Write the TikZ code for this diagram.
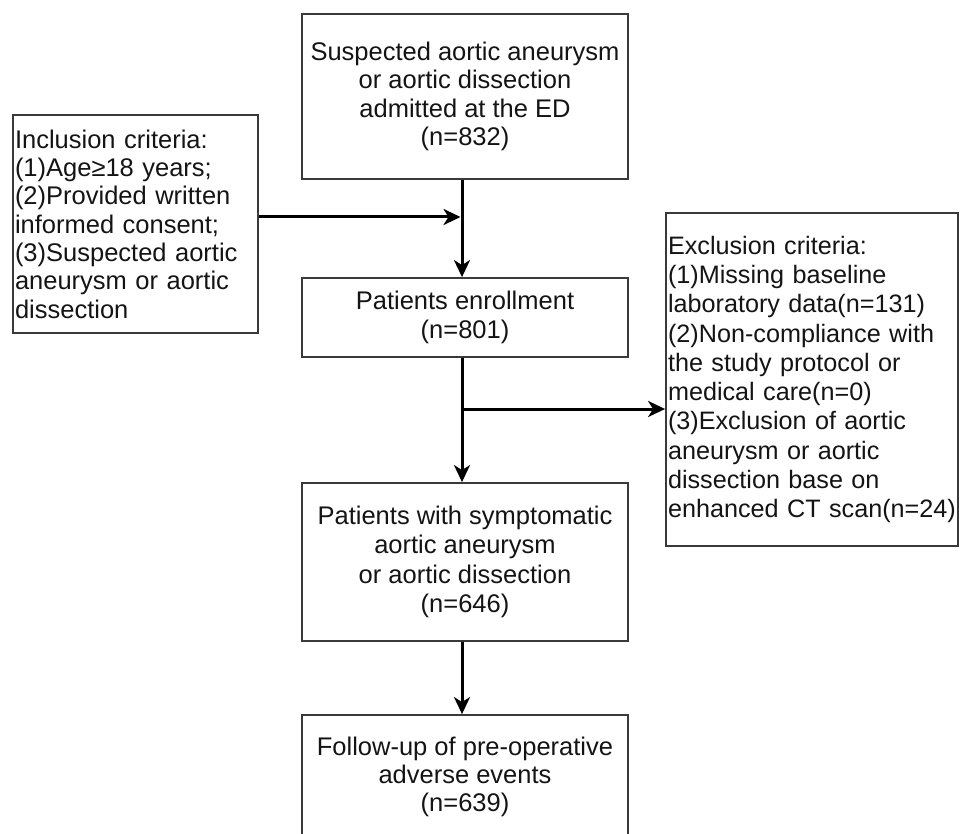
\documentclass[tikz,border=0pt]{standalone}
\usepackage{fontspec}
\setmainfont{Liberation Sans}
\usepackage{tikz}
\usepackage{xcolor}
\usetikzlibrary{arrows.meta, positioning, calc}
\definecolor{boxline}{HTML}{3A3A3A}
\definecolor{darktext}{HTML}{141414}

\begin{document}
\begin{tikzpicture}[x=1pt, y=-1pt,
            box/.style={draw=boxline, line width=1.8pt, fill=white, text=darktext,
                font=\fontsize{25.5}{28.3}\selectfont, inner sep=0pt},
            cbox/.style={box, align=center, minimum width=326pt},
            lbox/.style={box, align=left, inner xsep=2pt},
            arr/.style={line width=3pt, draw=black,
                -{Stealth[length=17pt, width=16pt, inset=5pt]}}]
            \clip (0,0) rectangle (960,834);
            \fill[white] (0,0) rectangle (960,834);
            % main column
            \node[cbox, minimum height=165pt] (suspect) at (465,96.5)
                {Suspected aortic aneurysm\\or aortic dissection\\admitted at the ED\\(n=832)};
            \node[cbox, minimum height=79pt] (enroll) at (465,317.5)
                {Patients enrollment\\(n=801)};
            \node[cbox, minimum height=158pt, font=\fontsize{25.5}{29.5}\selectfont] (sympt) at (465,562)
                {Patients with symptomatic\\aortic aneurysm\\or aortic dissection\\(n=646)};
            \node[cbox, minimum height=124pt] (follow) at (465,777)
                {Follow-up of pre-operative\\adverse events\\(n=639)};
            % side boxes
            \node[lbox, text width=241pt, minimum height=218pt] (incl) at (135.5,224)
                {Inclusion criteria:\\(1)Age≥18 years;\\(2)Provided written\\informed consent;\\(3)Suspected aortic\\aneurysm or aortic\\dissection};
            \node[lbox, text width=292pt, inner xsep=0pt, minimum height=333pt,
                font=\fontsize{25.2}{29.3}\selectfont] (excl) at (812,379.5)
                {\hspace*{2pt}Exclusion criteria:\\\hspace*{2pt}(1)Missing baseline\\\hspace*{2pt}laboratory data(n=131)\\\hspace*{2pt}(2)Non-compliance with\\\hspace*{2pt}the study protocol or\\\hspace*{2pt}medical care(n=0)\\\hspace*{2pt}(3)Exclusion of aortic\\\hspace*{2pt}aneurysm or aortic\\\hspace*{2pt}dissection base on\\\hspace*{2pt}enhanced~CT~scan(n=24)};
            % connectors
            \coordinate (spine) at (462,0);
            \coordinate (injoin) at (462,217);
            \coordinate (exjoin) at (462,409);
            \draw[arr] (suspect.south -| spine) -- (enroll.north -| spine);
            \draw[arr] (enroll.south -| spine) -- (sympt.north -| spine);
            \draw[arr] (sympt.south -| spine) -- (follow.north -| spine);
            \draw[arr, shorten >=1.5pt] (incl.east |- injoin) -- (injoin);
            \draw[arr] (exjoin) -- (excl.west |- exjoin);
        \end{tikzpicture}
\end{document}
